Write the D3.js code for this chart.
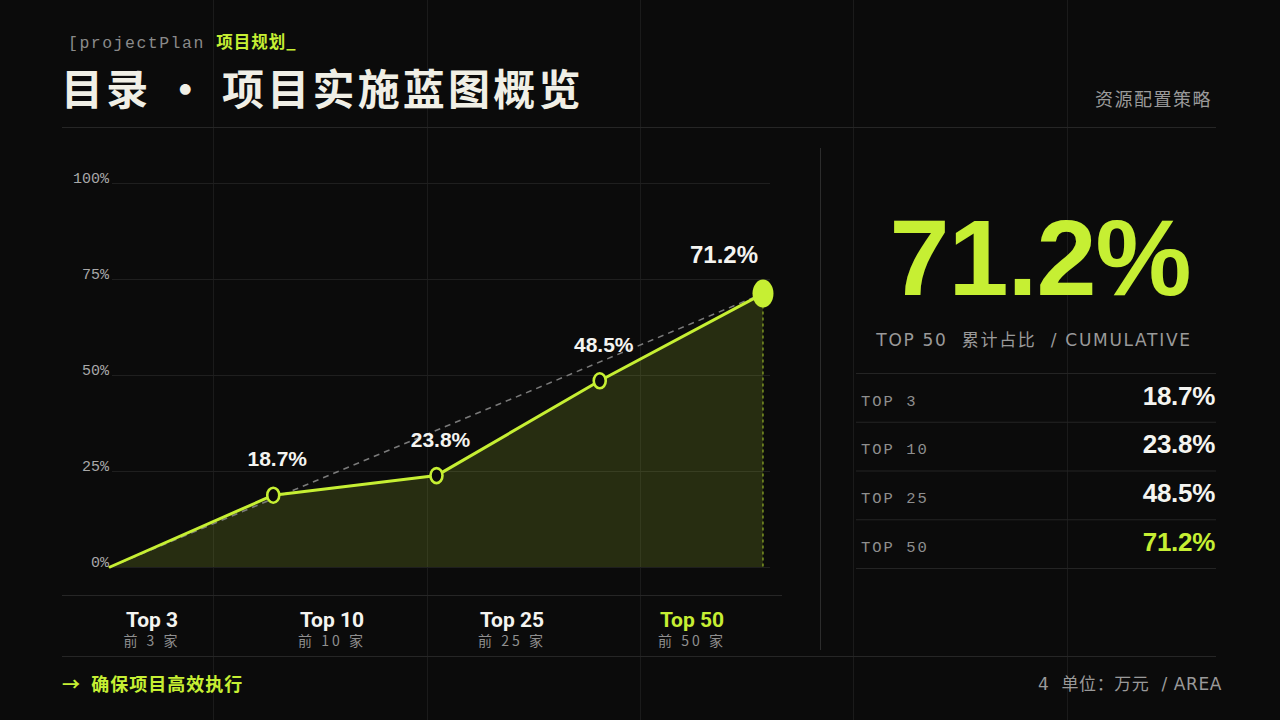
<!DOCTYPE html>
<html>
<head>
<meta charset="utf-8">
<script src="https://cdn.jsdelivr.net/npm/d3@7/dist/d3.min.js"></script>
<style>
  html, body { margin: 0; padding: 0; background: #0b0b0b; }
  svg { display: block; }
  text { white-space: pre; }
</style>
</head>
<body>
<svg id="chart" width="1280" height="720"></svg>
<script>
// ---- data ----
const categories = ["Top 3", "Top 10", "Top 25", "Top 50"];
const subLabels = ["前 3 家", "前 10 家", "前 25 家", "前 50 家"];
const values = [18.7, 23.8, 48.5, 71.2];
const startValue = 0;
const yTicks = [0, 25, 50, 75, 100];
const tableLabels = ["TOP 3", "TOP 10", "TOP 25", "TOP 50"];
const headline = "71.2%";

// ---- style ----
const LIME = "#c6ef33";
const BG = "#0b0b0b";
const MONO = "'Liberation Mono', 'DejaVu Sans Mono', monospace";
const SANS = "'Liberation Sans', Arial, sans-serif";
const CJK = "'Noto Sans CJK SC', 'Noto Sans', sans-serif";

const svg = d3.select("#chart");
svg.append("rect").attr("width", 1280).attr("height", 720).attr("fill", BG);

// background vertical grid
const vGrid = d3.scaleLinear().domain([0, 6]).range([0, 1280]);
svg.append("g").selectAll("line").data(d3.range(1, 6)).join("line")
  .attr("x1", d => Math.round(vGrid(d)) + 0.5).attr("x2", d => Math.round(vGrid(d)) + 0.5)
  .attr("y1", 0).attr("y2", 720)
  .attr("stroke", "#1b1b1b").attr("stroke-width", 1);

// header
const hdr = svg.append("text").attr("x", 68).attr("y", 48)
  .attr("font-size", 16.5);
hdr.append("tspan").attr("font-family", MONO).attr("fill", "#8a8a8a").attr("letter-spacing", 1.5).text("[projectPlan ");
hdr.append("tspan").attr("font-family", CJK).attr("font-weight", 700).attr("fill", LIME).attr("letter-spacing", 1).text("项目规划_");

svg.append("text").attr("x", 61).attr("y", 105)
  .attr("font-family", CJK).attr("font-weight", 700).attr("font-size", 42)
  .attr("letter-spacing", 3.2).attr("fill", "#f0efe6")
  .text("目录 · 项目实施蓝图概览");

svg.append("text").attr("x", 1212).attr("y", 106).attr("text-anchor", "end")
  .attr("font-family", CJK).attr("font-size", 18).attr("letter-spacing", 1.5)
  .attr("fill", "#9a9a9a").text("资源配置策略");

// separators
const sep = svg.append("g").attr("stroke", "#262626").attr("stroke-width", 1);
sep.append("line").attr("x1", 62).attr("x2", 1216).attr("y1", 127.5).attr("y2", 127.5);
sep.append("line").attr("x1", 62).attr("x2", 1216).attr("y1", 656.5).attr("y2", 656.5);
sep.append("line").attr("x1", 62).attr("x2", 782).attr("y1", 595.5).attr("y2", 595.5);
sep.append("line").attr("x1", 820.5).attr("x2", 820.5).attr("y1", 148).attr("y2", 650).attr("stroke", "#2c2c2c");

// ---- chart scales ----
const points = [startValue, ...values];
const x = d3.scaleLinear().domain([0, points.length - 1]).range([110, 763]);
const y = d3.scaleLinear().domain([0, 100]).range([567, 183]);
const xBand = d3.scaleBand().domain(categories).range([62, 782]);

// y axis with gridlines
const yAxis = d3.axisLeft(y).tickValues(yTicks).tickFormat(d => d + "%")
  .tickSize(-(770 - 112)).tickPadding(3);
const gy = svg.append("g").attr("transform", "translate(112,0)").call(yAxis);
gy.select(".domain").remove();
gy.selectAll(".tick line").attr("stroke", "#1f1f1f");
gy.selectAll(".tick text").attr("font-family", MONO).attr("font-size", 15)
  .attr("fill", "#a8a8a8").attr("dy", "-1");

// area
const area = d3.area().x((d, i) => x(i)).y0(y(0)).y1(d => y(d));
svg.append("path").datum(points).attr("d", area)
  .attr("fill", LIME).attr("fill-opacity", 0.15);

// dashed trend from first to last
const lastI = points.length - 1;
svg.append("line")
  .attr("x1", x(0)).attr("y1", y(points[0]))
  .attr("x2", x(lastI)).attr("y2", y(points[lastI]))
  .attr("stroke", "#7a7a7a").attr("stroke-width", 1.5).attr("stroke-dasharray", "6 5");

// vertical dashed drop at last point
svg.append("line")
  .attr("x1", x(lastI)).attr("x2", x(lastI))
  .attr("y1", y(points[lastI])).attr("y2", y(0))
  .attr("stroke", LIME).attr("stroke-opacity", 0.7).attr("stroke-width", 1.2).attr("stroke-dasharray", "3 3");

// main line
const line = d3.line().x((d, i) => x(i)).y(d => y(d));
svg.append("path").datum(points).attr("d", line)
  .attr("fill", "none").attr("stroke", LIME).attr("stroke-width", 3)
  .attr("stroke-linejoin", "round").attr("stroke-linecap", "round");

// markers
const mk = svg.append("g");
values.forEach((v, k) => {
  const i = k + 1;
  const last = i === lastI;
  mk.append("ellipse").attr("cx", x(i)).attr("cy", y(v))
    .attr("rx", last ? 10.5 : 6).attr("ry", last ? 14 : 7.5)
    .attr("fill", last ? LIME : BG).attr("stroke", LIME).attr("stroke-width", last ? 0 : 2.6);
  mk.append("text")
    .attr("x", last ? x(i) - 5 : x(i) + 4)
    .attr("y", y(v) - (last ? 31 : 29))
    .attr("text-anchor", last ? "end" : "middle")
    .attr("font-family", SANS).attr("font-weight", 700)
    .attr("font-size", last ? 24 : 21).attr("fill", "#f4f4f0")
    .text(v.toFixed(1) + "%");
});

// x category labels
const xl = svg.append("g");
categories.forEach((c, i) => {
  const cx = xBand(c) + xBand.bandwidth() / 2;
  const last = i === categories.length - 1;
  xl.append("text").attr("x", cx).attr("y", 627).attr("text-anchor", "middle")
    .attr("font-family", "Roboto, " + SANS).attr("font-weight", 700).attr("font-size", 21)
    .attr("fill", last ? LIME : "#f4f4f0").text(c);
  xl.append("text").attr("x", cx).attr("y", 646).attr("text-anchor", "middle")
    .attr("font-family", CJK).attr("font-size", 14).attr("letter-spacing", 3)
    .attr("fill", "#8f8f8f").text(subLabels[i]);
});

// ---- right panel ----
svg.append("text").attr("x", 1040).attr("y", 295).attr("text-anchor", "middle")
  .attr("font-family", SANS).attr("font-weight", 700).attr("font-size", 108)
  .attr("letter-spacing", -1).attr("fill", LIME).text(headline);

svg.append("text").attr("x", 1034).attr("y", 346).attr("text-anchor", "middle")
  .attr("font-family", "'DejaVu Sans', " + CJK).attr("font-size", 17).attr("letter-spacing", 1.7)
  .attr("fill", "#9a9a9a").text("TOP 50  累计占比  / CUMULATIVE");

const rowY = d3.scaleBand().domain(tableLabels).range([373.5, 568.5]);
const tbl = svg.append("g");
tbl.selectAll("line").data([...tableLabels, "end"]).join("line")
  .attr("x1", 856).attr("x2", 1216)
  .attr("y1", (d, i) => i < tableLabels.length ? rowY(d) : rowY.range()[1])
  .attr("y2", (d, i) => i < tableLabels.length ? rowY(d) : rowY.range()[1])
  .attr("stroke", "#242424");
tableLabels.forEach((t, i) => {
  const y0 = rowY(t);
  const last = i === tableLabels.length - 1;
  tbl.append("text").attr("x", 861).attr("y", y0 + 32)
    .attr("font-family", MONO).attr("font-size", 15.5).attr("letter-spacing", 2)
    .attr("fill", "#8f8f8f").text(t);
  tbl.append("text").attr("x", 1215).attr("y", y0 + 31).attr("text-anchor", "end")
    .attr("font-family", SANS).attr("font-weight", 700).attr("font-size", 26)
    .attr("letter-spacing", -0.3)
    .attr("fill", last ? LIME : "#f4f4f0").text(values[i].toFixed(1) + "%");
});

// ---- footer ----
svg.append("text").attr("x", 62).attr("y", 691)
  .attr("font-family", CJK).attr("font-weight", 700).attr("font-size", 18)
  .attr("letter-spacing", 1).attr("fill", LIME).text("→  确保项目高效执行");

svg.append("text").attr("x", 1222).attr("y", 690).attr("text-anchor", "end")
  .attr("font-family", "'DejaVu Sans', " + CJK).attr("font-size", 17).attr("letter-spacing", 0.6)
  .attr("fill", "#9a9a9a").text("4  单位：万元  / AREA");
</script>
</body>
</html>
